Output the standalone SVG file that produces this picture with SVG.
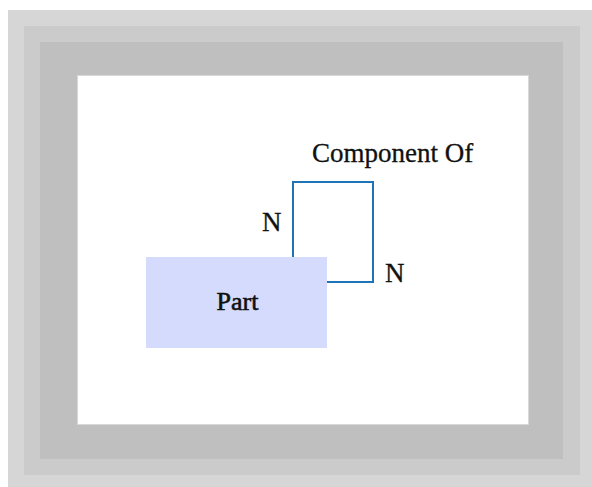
<svg xmlns="http://www.w3.org/2000/svg" width="592" height="487" viewBox="0 0 592 487">
<style>
text{font-family:'Liberation Serif',Tinos,'Times New Roman',Times,serif;font-size:27px;fill:#111;stroke:#111;stroke-width:0.3}
.conn{fill:none;stroke:#1f73b7;stroke-width:2}
</style>
<rect x="0" y="0" width="592" height="487" fill="#ffffff"/>
<rect x="8" y="10" width="590" height="481" fill="#d6d6d6"/>
<rect x="24" y="26" width="556" height="449" fill="#cbcbcb"/>
<rect x="40" y="42" width="523" height="417" fill="#bfbfbf"/>
<rect x="77.5" y="75.5" width="451" height="349" fill="#ffffff" stroke="#d8d8d8" stroke-width="1"/>
<g id="connectors">
<path class="conn" d="M293 257 V182 H373 V282 H327"/>
<text x="262" y="231" font-family="Liberation Serif">N</text>
<text x="385" y="282" font-family="Liberation Serif">N</text>
<text x="312" y="161.5" font-family="Liberation Serif">Component Of</text>
</g>
<g id="part">
<rect x="146" y="257" width="181" height="91" fill="#d5dbfc"/>
<text x="237.5" y="310" text-anchor="middle" font-family="Liberation Serif" style="font-size:26px;stroke-width:0.6">Part</text>
</g>
</svg>
